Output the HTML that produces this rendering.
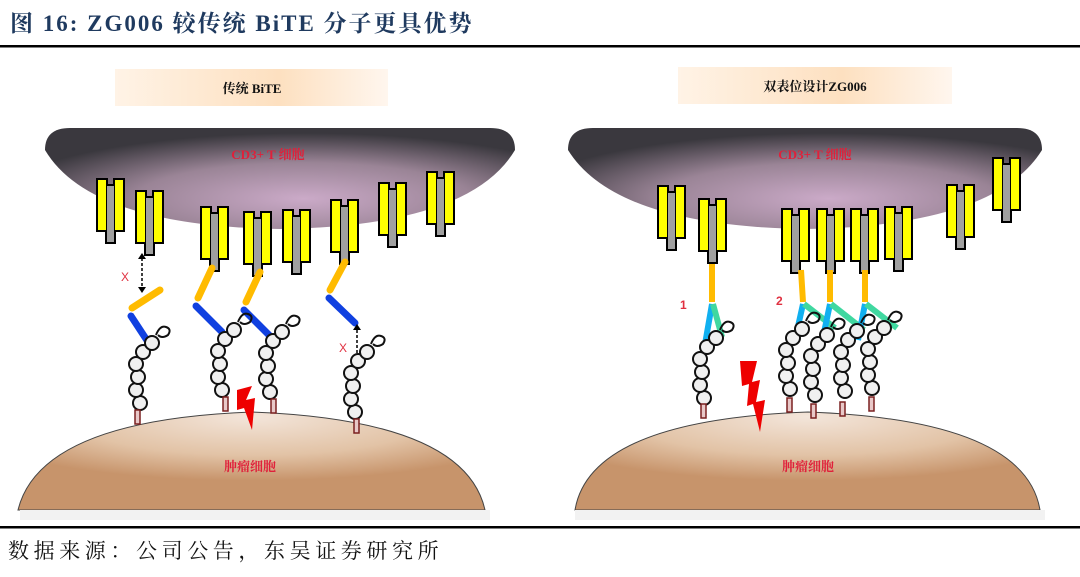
<!DOCTYPE html>
<html><head><meta charset="utf-8"><style>
body{margin:0;width:1080px;height:572px;background:#fff;overflow:hidden;position:relative;font-family:"Liberation Serif","Noto Serif CJK SC",serif}
</style></head><body>
<svg width="1080" height="572" viewBox="0 0 1080 572" xmlns="http://www.w3.org/2000/svg">
<defs>
<linearGradient id="box" x1="0" x2="1"><stop offset="0" stop-color="#fff3e6"/><stop offset="0.6" stop-color="#fde0c0"/><stop offset="1" stop-color="#fff6ee"/></linearGradient>
<radialGradient id="cell" cx="0.55" cy="0.7" r="0.65"><stop offset="0" stop-color="#cbaac8"/><stop offset="0.55" stop-color="#9a8496"/><stop offset="1" stop-color="#3a383e"/></radialGradient>
<radialGradient id="tum" cx="0.5" cy="0.05" r="0.65"><stop offset="0" stop-color="#f3e5da"/><stop offset="0.6" stop-color="#e2c3a6"/><stop offset="1" stop-color="#c7946b"/></radialGradient>
<g id="rec"><rect x="0" y="0" width="10" height="52" fill="#ffff00" stroke="#000" stroke-width="2"/><rect x="17" y="0" width="10" height="52" fill="#ffff00" stroke="#000" stroke-width="2"/><rect x="9" y="6" width="9" height="58" fill="#a0a0a0" stroke="#000" stroke-width="2"/><rect x="1" y="1" width="8" height="50" fill="#ffff00"/><rect x="18" y="1" width="8" height="50" fill="#ffff00"/></g>
<g id="chain" fill="#f0f0f0" stroke="#111" stroke-width="2"><circle cx="0" cy="0" r="7"/><circle cx="-4" cy="-13" r="7"/><circle cx="-2" cy="-26" r="7"/><circle cx="-4" cy="-39" r="7"/><circle cx="3" cy="-51" r="7"/><circle cx="12" cy="-60" r="7"/><path d="M16,-68 q4,-10 10,-8 q6,2 2,8 q-6,4 -10,0" fill="none"/></g>
<g id="stem"><rect x="-2" y="0" width="5" height="14" fill="#e8c8c8" stroke="#7a2020" stroke-width="1.5"/></g>
</defs>
<text x="10" y="31" font-size="23" font-weight="bold" fill="#1f3a5f" letter-spacing="2" font-family="Liberation Serif,'Noto Serif CJK SC',serif">图 16:  ZG006 较传统 BiTE 分子更具优势</text>
<rect x="0" y="45" width="1080" height="2.5" fill="#000"/>
<rect x="115" y="69" width="273" height="37" fill="url(#box)"/>
<text x="252" y="93" text-anchor="middle" font-size="13" font-weight="bold" fill="#111">传统 BiTE</text>
<path d="M45,150 Q45,128 70,128 L490,128 Q515,128 515,150 Q470,226 280,229 Q90,226 45,150 Z" fill="url(#cell)"/>
<text x="268" y="159" text-anchor="middle" font-size="13" font-weight="bold" fill="#e0203a">CD3+ T 细胞</text>
<path d="M18,510 Q40,420 252,412 Q465,420 485,510 Z" fill="url(#tum)" stroke="#444" stroke-width="1"/>
<rect x="20" y="510" width="470" height="10" fill="#f2f2f2"/>
<text x="250" y="471" text-anchor="middle" font-size="13" font-weight="bold" fill="#e0203a">肿瘤细胞</text>
<use href="#rec" x="97" y="179"/><use href="#rec" x="136" y="191"/><use href="#rec" x="201" y="207"/><use href="#rec" x="244" y="212"/><use href="#rec" x="283" y="210"/><use href="#rec" x="331" y="200"/><use href="#rec" x="379" y="183"/><use href="#rec" x="427" y="172"/>
<g stroke-linecap="round" stroke-width="7" fill="none">
<path d="M160,290 L132,308" stroke="#ffbb00"/><path d="M131,316 L150,345" stroke="#1040e0"/>
<path d="M212,268 L198,298" stroke="#ffbb00"/><path d="M196,306 L222,332" stroke="#1040e0"/>
<path d="M260,272 L246,302" stroke="#ffbb00"/><path d="M244,310 L270,336" stroke="#1040e0"/>
<path d="M345,262 L330,290" stroke="#ffbb00"/><path d="M329,298 L355,323" stroke="#1040e0"/>
</g>
<g stroke="#000" stroke-width="1.5" stroke-dasharray="3,2"><line x1="142" y1="258" x2="142" y2="288"/><line x1="357" y1="330" x2="357" y2="355"/></g>
<g fill="#000"><path d="M138,259 l4,-6 l4,6z"/><path d="M138,287 l4,6 l4,-6z"/><path d="M353,330 l4,-6 l4,6z"/><path d="M353,355 l4,6 l4,-6z"/></g>
<text x="121" y="281" font-size="12" fill="#e03040" font-family="Liberation Sans,sans-serif">X</text>
<text x="339" y="352" font-size="12" fill="#e03040" font-family="Liberation Sans,sans-serif">X</text>
<use href="#chain" x="140" y="403"/><use href="#chain" x="222" y="390"/><use href="#chain" x="270" y="392"/><use href="#chain" x="355" y="412"/>
<use href="#stem" x="137" y="410"/><use href="#stem" x="225" y="397"/><use href="#stem" x="273" y="399"/><use href="#stem" x="356" y="419"/>
<path d="M237,390 L252,386 L246,400 L255,398 L252,430 L244,408 L237,410 Z" fill="#ee0000"/>
<rect x="678" y="67" width="274" height="37" fill="url(#box)"/>
<text x="815" y="91" text-anchor="middle" font-size="13" font-weight="bold" fill="#111">双表位设计ZG006</text>
<path d="M568,150 Q568,128 593,128 L1017,128 Q1042,128 1042,150 Q995,226 805,229 Q615,226 568,150 Z" fill="url(#cell)"/>
<text x="815" y="159" text-anchor="middle" font-size="13" font-weight="bold" fill="#e0203a">CD3+ T 细胞</text>
<path d="M575,510 Q590,420 808,412 Q1025,420 1040,510 Z" fill="url(#tum)" stroke="#444" stroke-width="1"/>
<rect x="575" y="510" width="470" height="10" fill="#f2f2f2"/>
<text x="808" y="471" text-anchor="middle" font-size="13" font-weight="bold" fill="#e0203a">肿瘤细胞</text>
<use href="#rec" x="658" y="186"/><use href="#rec" x="699" y="199"/><use href="#rec" x="782" y="209"/><use href="#rec" x="817" y="209"/><use href="#rec" x="851" y="209"/><use href="#rec" x="885" y="207"/><use href="#rec" x="947" y="185"/><use href="#rec" x="993" y="158"/>
<g stroke-width="6" fill="none" stroke-linecap="butt">
<path d="M712,264 L712,302" stroke="#ffbb00"/><path d="M712,304 L704,350" stroke="#10b0f0"/><path d="M713,304 L722,337" stroke="#40d8a0"/>
<path d="M801,270 L803,302" stroke="#ffbb00"/><path d="M803,304 L795,340" stroke="#10b0f0"/><path d="M804,304 L835,328" stroke="#40d8a0"/>
<path d="M830,270 L830,302" stroke="#ffbb00"/><path d="M830,304 L822,342" stroke="#10b0f0"/><path d="M831,304 L864,330" stroke="#40d8a0"/>
<path d="M865,270 L865,302" stroke="#ffbb00"/><path d="M865,304 L858,340" stroke="#10b0f0"/><path d="M866,304 L897,328" stroke="#40d8a0"/>
</g>
<text x="680" y="309" font-size="12" font-weight="bold" fill="#e03040" font-family="Liberation Sans,sans-serif">1</text>
<text x="776" y="305" font-size="12" font-weight="bold" fill="#e03040" font-family="Liberation Sans,sans-serif">2</text>
<use href="#chain" x="704" y="398"/><use href="#chain" x="790" y="389"/><use href="#chain" x="815" y="395"/><use href="#chain" x="845" y="391"/><use href="#chain" x="872" y="388"/>
<use href="#stem" x="703" y="404"/><use href="#stem" x="789" y="398"/><use href="#stem" x="813" y="404"/><use href="#stem" x="842" y="402"/><use href="#stem" x="871" y="397"/>
<path d="M740,361 L757,361 L752,382 L760,380 L756,402 L765,400 L760,432 L753,404 L747,406 L749,384 L742,386 Z" fill="#ee0000"/>
<rect x="0" y="526" width="1080" height="2.5" fill="#000"/>
<text x="8" y="558" font-size="21" letter-spacing="4.6" fill="#111">数据来源：公司公告，东吴证券研究所</text>
</svg>
</body></html>
